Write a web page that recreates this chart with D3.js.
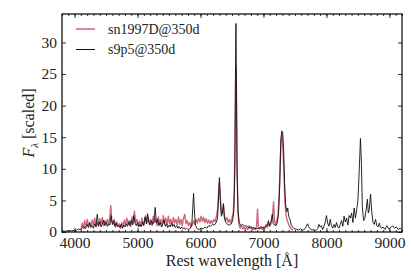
<!DOCTYPE html>
<html>
<head>
<meta charset="utf-8">
<script src="https://cdn.jsdelivr.net/npm/d3@7"></script>
<style>
  body { margin: 0; background: #fff; }
  svg { display: block; }
  text { font-family: "Liberation Serif", "DejaVu Serif", serif; fill: #222; }
</style>
</head>
<body>
<div id="chart"></div>
<script>
// observed spectrum (sn1997D @ 350 d), wavelength [A] and scaled flux
const obsWave = [4100,4120,4140,4160,4180,4200,4220,4240,4260,4280,4300,4320,4340,4360,4380,4400,4420,4440,4460,4480,
  4500,4520,4540,4560,4575,4590,4610,4630,4650,4670,4690,4710,4730,4750,4770,4790,4810,4830,4850,4870,
  4890,4910,4930,4950,4970,4990,5010,5030,5050,5070,5090,5110,5130,5150,5170,5190,5210,5230,5250,5270,
  5290,5310,5330,5350,5370,5390,5410,5430,5450,5470,5490,5510,5530,5550,5570,5590,5610,5630,5650,5670,
  5690,5710,5730,5750,5770,5790,5810,5830,5850,5870,5890,5910,5930,5950,5970,5990,6010,6030,6050,6070,
  6090,6110,6130,6150,6170,6190,6210,6230,6250,6270,6285,6300,6315,6330,6345,6364,6380,6400,6420,6440,
  6460,6480,6500,6520,6535,6548,6558,6565,6572,6582,6595,6610,6630,6650,6670,6690,6710,6730,6750,6770,
  6790,6810,6830,6850,6870,6890,6905,6920,6940,6960,6980,7000,7020,7040,7060,7080,7100,7120,7140,7160,
  7175,7190,7210,7230,7250,7265,7280,7295,7310,7325,7340,7355,7370,7390,7410,7430,7450,7470];
const obsFlux = [0.3,1.4,0.6,1.8,0.9,2.0,1.0,1.6,0.7,1.9,1.1,2.2,0.8,1.5,0.9,2.1,1.2,2.3,1.0,1.8,
  1.3,2.0,1.1,2.4,4.2,1.8,1.2,2.0,0.8,1.6,0.9,1.3,0.6,1.5,0.8,1.9,1.0,2.2,1.2,1.8,
  0.9,2.4,1.3,3.3,1.5,2.0,1.0,1.7,0.9,2.2,1.1,1.8,2.6,1.4,2.3,1.2,2.0,1.0,2.5,1.5,
  2.1,1.0,2.4,1.3,2.0,1.0,2.6,1.4,2.2,1.1,2.5,1.3,2.0,1.0,2.3,1.4,2.0,1.1,2.4,1.2,
  2.0,1.0,2.2,2.8,1.3,1.8,1.0,1.5,0.8,1.2,1.8,1.2,2.0,1.4,2.2,1.6,2.5,1.7,2.3,1.5,
  2.1,1.4,1.9,1.3,1.8,1.4,2.0,1.6,2.4,3.5,6.0,8.0,5.5,3.0,3.2,4.2,2.5,1.8,2.3,1.5,
  2.0,1.4,2.2,3.0,6.0,14,24,26,20,9,3.0,1.2,0.6,1.0,0.5,0.8,0.3,0.7,0.4,1.0,
  0.5,0.8,0.3,0.6,0.4,0.9,3.6,0.8,0.5,0.9,0.4,0.8,0.5,1.2,0.7,1.5,1.0,1.6,2.2,4.8,
  1.8,1.2,1.8,2.5,6.0,11,14.5,15.5,13,9,5.0,3.0,2.0,1.5,1.0,0.6,0.4,0.3];

// model spectrum (s9p5 @ 350 d)
const modWave = [3800,3850,3900,3950,4000,4030,4060,4090,4120,4150,4170,4200,4220,4240,4260,4280,4300,4320,4340,4360,
  4380,4400,4420,4440,4460,4480,4500,4520,4540,4560,4580,4600,4620,4640,4660,4680,4700,4720,4740,4760,
  4780,4800,4820,4840,4860,4880,4900,4920,4940,4960,4980,5000,5020,5040,5060,5080,5100,5120,5140,5160,
  5180,5200,5220,5240,5260,5280,5300,5320,5340,5360,5380,5400,5420,5440,5460,5480,5500,5520,5540,5560,
  5580,5600,5620,5640,5660,5680,5700,5720,5740,5760,5780,5800,5830,5860,5875,5890,5905,5920,5950,5980,
  6010,6040,6070,6100,6130,6160,6190,6220,6250,6270,6285,6300,6315,6330,6345,6364,6380,6400,6430,6460,
  6490,6510,6530,6545,6555,6563,6570,6580,6595,6615,6640,6670,6700,6730,6760,6790,6820,6850,6880,6910,
  6940,6970,7000,7030,7060,7080,7095,7115,7140,7155,7175,7200,7220,7240,7260,7275,7290,7305,7320,7335,
  7350,7370,7385,7400,7420,7440,7460,7480,7500,7530,7560,7590,7620,7650,7680,7700,7720,7740,7770,7800,
  7830,7860,7880,7900,7920,7940,7960,7980,8000,8020,8040,8060,8080,8100,8120,8140,8160,8180,8200,8220,
  8240,8260,8280,8300,8320,8340,8360,8380,8400,8420,8440,8460,8480,8500,8520,8540,8555,8570,8590,8610,
  8630,8650,8665,8680,8700,8720,8740,8760,8780,8800,8820,8840,8860,8880,8900,8930,8960,8990,9020,9050,
  9080,9110,9140,9170,9200];
const modFlux = [0.15,0.12,0.2,0.18,0.3,0.25,0.5,0.35,0.6,0.9,0.5,1.2,0.7,1.4,0.8,1.0,0.6,1.3,0.9,2.8,
  1.0,1.6,0.8,1.2,1.9,1.0,1.5,0.9,1.3,1.1,2.6,1.2,1.8,0.9,1.4,0.8,1.0,0.7,1.2,0.6,
  1.1,0.8,1.3,0.9,1.6,1.0,1.8,1.1,2.6,1.4,1.0,1.5,0.8,1.2,0.9,1.6,1.0,2.4,1.3,2.9,
  1.5,1.1,1.8,1.2,1.6,3.9,1.4,2.0,1.0,1.5,0.8,1.2,1.9,0.9,1.3,0.7,1.1,0.8,1.4,0.9,
  1.2,0.7,1.0,0.6,0.9,0.5,0.8,0.5,0.7,0.4,0.6,0.4,0.5,1.0,3.5,6.1,3.0,1.0,0.5,0.4,
  0.6,0.5,0.8,0.6,1.0,0.9,1.2,1.1,1.5,2.2,5.0,8.6,5.0,2.5,2.8,4.5,2.2,1.5,1.2,1.1,
  1.3,1.8,3.5,10,25,33,24,10,3.5,1.5,1.0,1.2,0.9,1.0,0.7,0.8,0.6,0.7,0.5,0.6,
  0.5,0.8,0.6,0.9,1.0,1.8,0.9,1.2,2.8,1.3,1.1,1.0,1.5,3.0,8.0,14.5,16.0,15.8,13,8,
  4.5,3.2,3.8,2.5,2.0,1.2,0.8,0.6,0.5,0.4,0.3,0.5,0.3,0.4,0.9,1.3,0.8,0.5,0.3,0.4,
  0.2,0.5,1.2,0.8,1.0,0.4,0.9,1.5,2.6,1.4,0.9,2.0,1.0,0.6,1.2,0.7,1.5,0.8,0.6,1.2,
  1.8,0.9,2.5,1.6,2.2,1.1,2.6,2.2,3.0,1.5,3.8,2.2,3.5,5.0,9.5,14.8,11,4.0,1.8,2.2,
  3.5,5.2,3.0,3.5,6.0,3.2,1.5,1.2,2.0,1.0,0.8,1.4,0.7,0.6,0.8,0.4,1.0,0.5,0.7,1.0,
  0.6,0.8,0.4,0.6,0.3];

const seriesNames = ["sn1997D@350d", "s9p5@350d"];
const seriesColors = ["#c84a64", "#111111"];
const xTicks = [4000, 5000, 6000, 7000, 8000, 9000];
const yTicks = [0, 5, 10, 15, 20, 25, 30];

const width = 411, height = 274;
const margin = {top: 14, right: 9, bottom: 42, left: 62};
const innerW = width - margin.left - margin.right;
const innerH = height - margin.top - margin.bottom;

const x = d3.scaleLinear().domain([3800, 9200]).range([0, innerW]);
const y = d3.scaleLinear().domain([0, 34.5]).range([innerH, 0]);

const svg = d3.select("#chart").append("svg")
  .attr("width", width).attr("height", height);

const g = svg.append("g").attr("transform", `translate(${margin.left},${margin.top})`);

g.append("clipPath").attr("id", "clip")
  .append("rect").attr("width", innerW).attr("height", innerH);

const line = d3.line().x(d => x(d[0])).y(d => y(d[1]));

const obs = obsWave.map((w, i) => [w, obsFlux[i]]);
const mod = modWave.map((w, i) => [w, modFlux[i]]);

const plot = g.append("g").attr("clip-path", "url(#clip)");
plot.append("path").datum(obs)
  .attr("fill", "none").attr("stroke", seriesColors[0])
  .attr("stroke-opacity", 0.85).attr("stroke-width", 1.4)
  .attr("stroke-linejoin", "round").attr("d", line);
plot.append("path").datum(mod)
  .attr("fill", "none").attr("stroke", seriesColors[1])
  .attr("stroke-width", 0.9).attr("stroke-linejoin", "round").attr("d", line);

// axes, ticks pointing inward on all four sides
const minorX = d3.range(3800, 9201, 100);
const fmt = d3.format("d");

const styleAxis = sel => {
  sel.select(".domain").remove();
  sel.selectAll("line").attr("stroke", "#000").attr("stroke-width", 0.8);
  sel.selectAll("text").style("font-size", "15.5px").attr("fill", "#222");
};

g.append("g").attr("transform", `translate(0,${innerH})`)
  .call(d3.axisBottom(x).tickValues(minorX).tickSizeInner(-2).tickSizeOuter(0).tickFormat(""))
  .call(styleAxis);
g.append("g").attr("transform", `translate(0,${innerH})`)
  .call(d3.axisBottom(x).tickValues(xTicks).tickSizeInner(-4).tickSizeOuter(0).tickPadding(5).tickFormat(fmt))
  .call(styleAxis);
g.append("g")
  .call(d3.axisTop(x).tickValues(minorX).tickSizeInner(-2).tickSizeOuter(0).tickFormat(""))
  .call(styleAxis);
g.append("g")
  .call(d3.axisTop(x).tickValues(xTicks).tickSizeInner(-4).tickSizeOuter(0).tickFormat(""))
  .call(styleAxis);
g.append("g")
  .call(d3.axisLeft(y).tickValues(yTicks).tickSizeInner(-4).tickSizeOuter(0).tickPadding(5).tickFormat(fmt))
  .call(styleAxis);
g.append("g").attr("transform", `translate(${innerW},0)`)
  .call(d3.axisRight(y).tickValues(yTicks).tickSizeInner(-4).tickSizeOuter(0).tickFormat(""))
  .call(styleAxis);

g.append("rect").attr("width", innerW).attr("height", innerH)
  .attr("fill", "none").attr("stroke", "#000").attr("stroke-width", 1.2);

// axis labels
svg.append("text")
  .attr("x", margin.left + innerW / 2).attr("y", 266)
  .attr("text-anchor", "middle").style("font-size", "16px")
  .text("Rest wavelength [Å]");

const yl = svg.append("text")
  .attr("transform", `translate(34,${margin.top + innerH / 2}) rotate(-90)`)
  .attr("text-anchor", "middle").style("font-size", "16px");
yl.append("tspan").style("font-style", "italic").text("F");
yl.append("tspan").attr("dy", 4).style("font-size", "11px").style("font-style", "italic").text("λ");
yl.append("tspan").attr("dy", -4).text(" [scaled]");

// legend
const legend = svg.append("g");
seriesNames.forEach((name, i) => {
  const ly = 29 + i * 20.5;
  legend.append("line")
    .attr("x1", 76).attr("x2", 95).attr("y1", ly).attr("y2", ly)
    .attr("stroke", seriesColors[i]).attr("stroke-width", i === 0 ? 1.3 : 1);
  legend.append("text")
    .attr("x", 108).attr("y", ly + 4.5)
    .style("font-size", "14px").text(name);
});
</script>
</body>
</html>
